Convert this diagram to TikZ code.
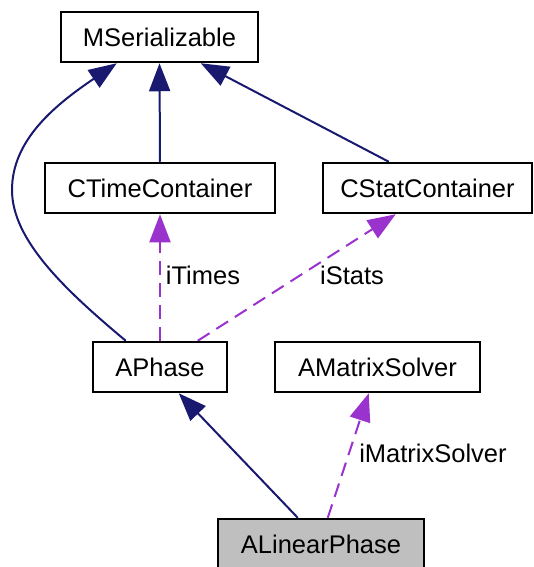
\documentclass[tikz,border=0pt]{standalone}
\usepackage{fontspec}
\setmainfont{Liberation Sans}
\usetikzlibrary{arrows.meta,backgrounds}
\definecolor{edgeblue}{HTML}{191970}
\definecolor{edgepurple}{HTML}{9A32CD}
\definecolor{boxgray}{HTML}{BFBFBF}
\begin{document}
\begin{tikzpicture}[x=1pt,y=-1pt,
  classbox/.style={draw=black, line width=2.5pt, fill=white, inner sep=0pt,
    minimum height=50pt, font=\fontsize{25.5}{30}\selectfont},
  inherit/.style={draw=edgeblue, line width=2pt,
    -{Triangle[length=28pt,width=21pt]}},
  usage/.style={draw=edgepurple, line width=2pt, dash pattern=on 14pt off 8pt,
    -{Triangle[length=28pt,width=21pt]}},
  lbl/.style={font=\fontsize{25.5}{30}\selectfont, inner sep=0pt}]
\useasboundingbox (0,0) rectangle (533,567);

% classes
\node[classbox, minimum width=197pt] (ms)  at (159.5,37) {MSerializable};
\node[classbox, minimum width=230pt] (ctc) at (160,188)  {CTimeContainer};
\node[classbox, minimum width=209pt] (csc) at (427.5,188) {CStatContainer};
\node[classbox, minimum width=134pt] (aph) at (160,367)  {APhase};
\node[classbox, minimum width=205pt] (ams) at (377.5,367) {AMatrixSolver};
\node[classbox, minimum width=206pt, fill=boxgray] (alp) at (321,544) {ALinearPhase};

\begin{scope}[on background layer]
% inheritance
\draw[inherit] (ctc.north) -- (ms.south);
\draw[inherit] ([xshift=67pt]csc.north west) -- ([xshift=141pt]ms.south west);
\draw[inherit] ([xshift=34pt]aph.north west)
  .. controls (65,290) and (12,240) .. (12,190)
  .. controls (12,140) and (55,105) .. ([xshift=57pt]ms.south west);
\draw[inherit] ([xshift=81pt]alp.north west) -- ([xshift=87pt]aph.south west);

% member usage
\draw[usage] (aph.north) -- (ctc.south);
\draw[usage] ([xshift=106pt]aph.north west) -- ([xshift=74pt]csc.south west);
\draw[usage] ([xshift=111pt]alp.north west) -- ([xshift=95pt]ams.south west);
\end{scope}

% member names
\node[lbl] (lt) at (203,275) {iTimes};
\node[lbl] (ls) at (352,275) {iStats};
\node[lbl] (lm) at (433,453) {iMatrixSolver};
\end{tikzpicture}
\end{document}
